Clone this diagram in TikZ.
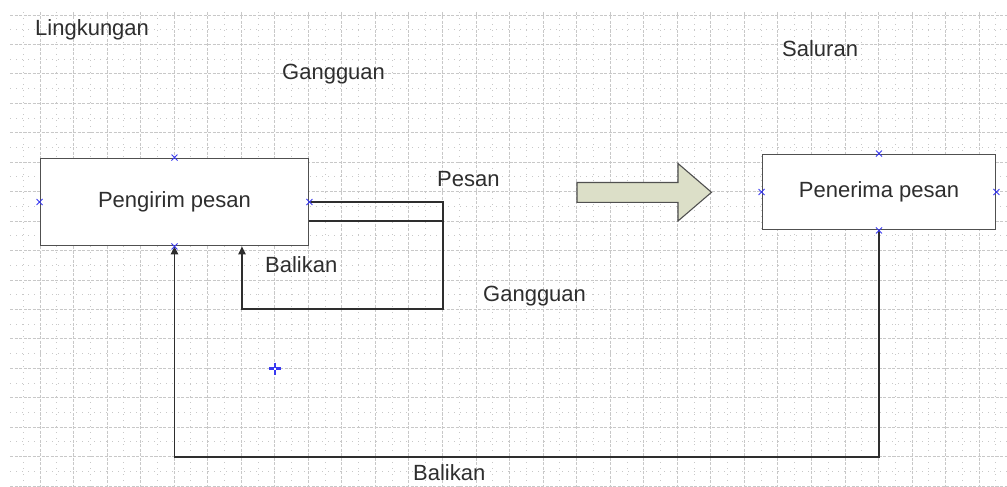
\documentclass[tikz,border=0pt]{standalone}
\usepackage{fontspec}
\setmainfont{Liberation Sans}
\usetikzlibrary{arrows.meta}
\definecolor{ink}{HTML}{2E2E2E}
\definecolor{edge}{HTML}{505050}
\definecolor{gridc}{HTML}{C8C8C8}
\definecolor{arrowfill}{HTML}{DCDFC8}
\definecolor{markc}{HTML}{3A3AF0}
\tikzset{
  lbl/.style={font=\fontsize{22}{26}\selectfont, text=ink, inner sep=0pt, anchor=base west},
  boxnode/.style={draw=edge, line width=1.4pt, fill=white, font=\fontsize{22}{26}\selectfont, text=ink, inner sep=0pt},
  conn/.style={draw=ink, line width=1.1pt},
  tip/.style={-{Triangle[length=8pt,width=7.5pt]}},
  majorgrid/.style={draw=gridc, line width=0.9pt, dash pattern=on 3pt off 1.5pt},
  minorgrid/.style={draw=gridc, line width=0.9pt, dash pattern=on 1pt off 5pt},
  xmk/.pic={\draw[markc, line width=0.8pt] (-3,-3) -- (3,3) (-3,3) -- (3,-3);},
  crossmk/.pic={\draw[markc, line width=2.2pt] (-6,0) -- (6,0) (0,-6) -- (0,6);
                \fill[white] (-1,-1) rectangle (1,1);}
}
\begin{document}
\begin{tikzpicture}[x=1pt, y=-1pt]
  \useasboundingbox (0,0) rectangle (1007,487);
  \fill[white] (0,0) rectangle (1007,487);

  % drawing-page grid
  \foreach \k in {0,...,28} {
    \pgfmathsetmacro{\gx}{40+33.54*\k}
    \draw[majorgrid] (\gx,12) -- (\gx,487);
  }
  \foreach \k in {0,...,29} {
    \pgfmathsetmacro{\gx}{23.23+33.54*\k}
    \draw[minorgrid] (\gx,12) -- (\gx,487);
  }
  \foreach \k in {0,...,16} {
    \pgfmathsetmacro{\gy}{15+29.44*\k}
    \draw[majorgrid] (10,\gy) -- (1007,\gy);
  }
  \foreach \k in {0,...,15} {
    \pgfmathsetmacro{\gy}{29.72+29.44*\k}
    \draw[minorgrid] (10,\gy) -- (1007,\gy);
  }

  % labels
  \node[lbl] (lingk) at (35,36) {Lingkungan};
  \node[lbl] (gang1) at (282,80) {Gangguan};
  \node[lbl] (salur) at (782,57) {Saluran};
  \node[lbl] (pesan) at (437,186) {Pesan};
  \node[lbl] (bal1) at (265,272.5) {Balikan};
  \node[lbl] (gang2) at (483,301.5) {Gangguan};
  \node[lbl] (bal2) at (413,480) {Balikan};

  % sender and receiver
  \node[boxnode, minimum width=268.5pt, minimum height=87.5pt] (peng) at (174.5,202) {Pengirim pesan};
  \node[boxnode, minimum width=233.5pt, minimum height=75.5pt] (pen) at (879,192) {Penerima pesan};

  % channel arrow
  \filldraw[fill=arrowfill, draw=edge, line width=1.1pt]
    (577,182.5) -- (678,182.5) -- (678,163.5) -- (711.5,192.3) -- (678,221)
    -- (678,202.3) -- (577,202.3) -- cycle;

  % message loop and feedback from the receiver
  \coordinate (loopR) at (443,309);
  \coordinate (loopL) at (242,309);
  \coordinate (fbR) at (879,457);
  \coordinate (fbL) at (174.5,457);
  \draw[conn, tip] (peng.east) -| (loopR) -- (loopL) -- (loopL |- peng.south);
  \draw[conn] (peng.east |- 0,221) -- (loopR |- 0,221);
  \draw[conn, tip] (pen.south) -- (fbR) -- (fbL) -- (peng.south);

  % connection points
  \pic at (peng.north) {xmk};
  \pic at (peng.south) {xmk};
  \pic at (peng.west) {xmk};
  \pic at (peng.east) {xmk};
  \pic at (pen.north) {xmk};
  \pic at (pen.south) {xmk};
  \pic at (pen.west) {xmk};
  \pic at (pen.east) {xmk};
  \pic at (275,368.5) {crossmk};
\end{tikzpicture}
\end{document}
